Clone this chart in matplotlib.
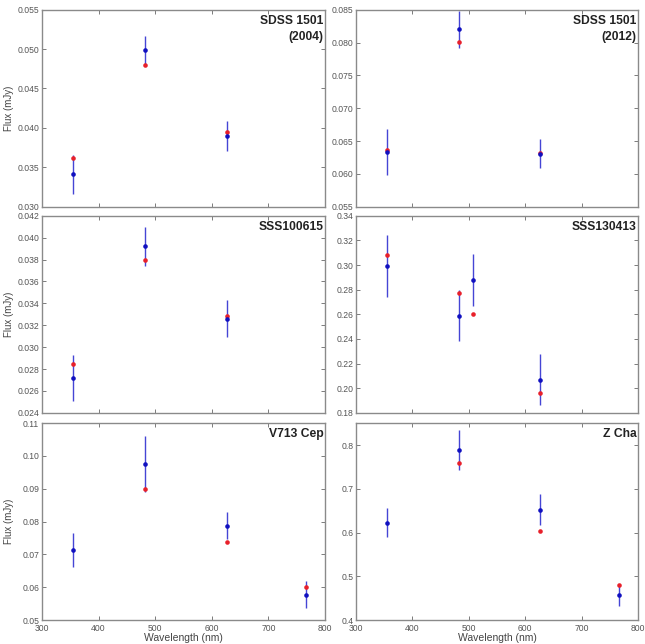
import numpy as np
import matplotlib
matplotlib.use('Agg')
import matplotlib.pyplot as plt

plt.rcParams['font.family'] = ['Liberation Sans', 'DejaVu Sans']

#Data (wavelength in nm, flux in mJy)
names = ['SDSS 1501\n(2004)', 'SDSS 1501\n(2012)', 'SSS100615', 'SSS130413', 'V713 Cep', 'Z Cha']

wl_obs = [[355, 482, 626],
          [355, 482, 626],
          [355, 482, 626],
          [355, 482, 508, 626],
          [355, 482, 626, 767],
          [355, 482, 626, 767]]
flux_obs = [[0.0341, 0.0499, 0.0390],
            [0.0633, 0.0820, 0.0631],
            [0.0272, 0.0392, 0.0326],
            [0.299, 0.259, 0.288, 0.207],
            [0.0714, 0.0975, 0.0788, 0.0578],
            [0.623, 0.789, 0.652, 0.457]]
err_obs = [[0.0025, 0.0018, 0.0019],
           [0.0035, 0.0028, 0.0022],
           [0.0021, 0.0018, 0.0017],
           [0.025, 0.021, 0.021, 0.021],
           [0.0051, 0.0085, 0.0041, 0.0041],
           [0.033, 0.046, 0.035, 0.025]]

wl_mod = [[355, 482, 626],
          [355, 482, 626],
          [355, 482, 626],
          [355, 482, 508, 626],
          [482, 626, 767],
          [482, 626, 767]]
flux_mod = [[0.0362, 0.0480, 0.0395],
            [0.0637, 0.0801, 0.0632],
            [0.0285, 0.0380, 0.0328],
            [0.308, 0.277, 0.260, 0.196],
            [0.0900, 0.0737, 0.0601],
            [0.758, 0.604, 0.480]]

ylims = [(0.030, 0.055), (0.055, 0.085), (0.024, 0.042), (0.18, 0.34), (0.05, 0.11), (0.4, 0.85)]
ysteps = [0.005, 0.005, 0.002, 0.02, 0.01, 0.1]
yfmt = ['%.3f', '%.3f', '%.3f', '%.2f', '%.2f', '%.1f']

#Layout
fig = plt.figure(figsize=(6.45, 6.44), dpi=100)
lefts = [0.065, 0.552]
bottoms = [0.679, 0.359, 0.037]
w = [0.439, 0.437]
h = 0.306

for k in range(6):
    row = k // 2
    col = k % 2
    ax = fig.add_axes([lefts[col], bottoms[row], w[col], h])

    ax.errorbar(wl_obs[k], flux_obs[k], yerr=err_obs[k], fmt='none',
                ecolor='#4545d5', elinewidth=1.0, capsize=0, zorder=2)
    ax.plot(wl_mod[k], flux_mod[k], 'o', color='#e8202a', ms=3.3, mec='none', zorder=3)
    ax.plot(wl_obs[k], flux_obs[k], 'o', color='#1010c0', ms=3.3, mec='none', zorder=4)

    ax.set_xlim(300, 800)
    ax.set_ylim(*ylims[k])
    ax.set_xticks(np.arange(300, 801, 100))
    yt = np.arange(ylims[k][0], ylims[k][1] + 1e-9, ysteps[k])
    ax.set_yticks(yt)
    ax.set_yticklabels([yfmt[k] % v for v in yt])

    ax.tick_params(direction='in', top=True, right=True, length=3, width=0.6,
                   labelsize=6.2, colors='#666666', labelcolor='#555555', pad=2)
    ax.tick_params(axis='x', pad=3)
    for s in ax.spines.values():
        s.set_color('#8a8a8a')
        s.set_linewidth(1.0)

    if row < 2:
        ax.set_xticklabels([])
    else:
        ax.set_xlabel('Wavelength (nm)', fontsize=7.5, color='#444444', labelpad=0)
    if col == 0:
        ax.set_ylabel('Flux (mJy)', fontsize=7, color='#444444')
        ax.yaxis.set_label_coords(-0.1, 0.5)

    ax.text(0.995, 0.975, names[k], transform=ax.transAxes, ha='right', va='top',
            fontsize=8.7, fontweight='bold', color='#222222', linespacing=1.45)

plt.savefig('out.png', dpi=100)
